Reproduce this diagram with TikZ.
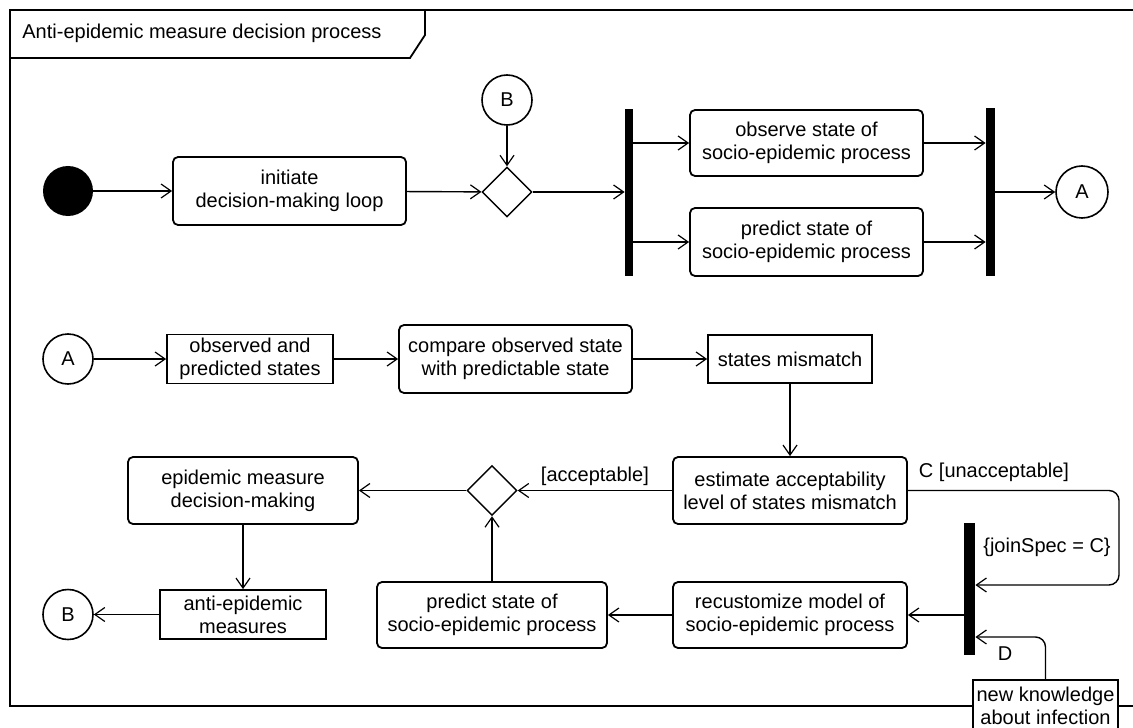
\documentclass[tikz,border=0pt]{standalone}
\usepackage{fontspec}
\setmainfont{Liberation Sans}
\usetikzlibrary{arrows.meta,shapes.geometric}
\begin{document}
\begin{tikzpicture}[x=0.5pt,y=-0.5pt,
  txt/.style={font=\fontsize{10}{11.5}\selectfont},
  box/.style={txt,draw,line width=0.9pt,rounded corners=2.5pt,fill=white,align=center,inner sep=0pt},
  obj/.style={txt,draw,line width=0.9pt,fill=white,align=center,inner sep=0pt},
  conn/.style={line width=0.7pt,-{Straight Barb[length=5pt,width=7pt,line width=0.6pt]}},
  conncirc/.style={txt,draw,circle,line width=0.8pt,fill=white,inner sep=0pt},
  bar/.style={fill=black,draw=none,inner sep=0pt},
  dec/.style={draw,diamond,line width=0.7pt,fill=white,minimum width=25pt,minimum height=25pt,inner sep=0pt},
  lbl/.style={txt,inner sep=1pt}
]
\fill[white] (0,0) rectangle (1133,727);
\useasboundingbox (0,0) rectangle (1133,727);

% frame
\draw[line width=0.9pt] (10,10) rectangle (1140,706);
\draw[line width=0.9pt] (10,58) -- (410,58) -- (425,35) -- (425,10);
\node[lbl,anchor=west] (title) at (20,33) {Anti-epidemic measure decision process};

% row 1
\node[circle,fill=black,inner sep=0pt,minimum size=25pt] (start) at (68,191) {};
\node[box,minimum width=116.5pt,minimum height=34pt] (init) at (289.5,191) {initiate\\decision-making loop};
\node[dec] (d1) at (507,192) {};
\node[conncirc,minimum size=25pt] (Bt) at (507,100) {B};
\node[bar,minimum width=4pt,minimum height=83.5pt] (f1) at (629,192.5) {};
\node[box,minimum width=116.5pt,minimum height=33pt] (obs) at (806.5,143) {observe state of\\socio-epidemic process};
\node[box,minimum width=116.5pt,minimum height=34pt] (pr1) at (806.5,242) {predict state of\\socio-epidemic process};
\node[bar,minimum width=4.5pt,minimum height=84pt] (j1) at (990.5,192) {};
\node[conncirc,minimum size=26pt] (At) at (1082,192) {A};

% row 2
\node[conncirc,minimum size=25pt] (Al) at (68,359) {A};
\node[obj,minimum width=83pt,minimum height=24.5pt] (ops) at (250,359) {observed and\\predicted states};
\node[box,minimum width=116.5pt,minimum height=34pt] (cmp) at (515.5,359) {compare observed state\\with predictable state};
\node[obj,minimum width=82pt,minimum height=24pt] (mis) at (790,359) {states mismatch};

% row 3
\node[box,minimum width=117pt,minimum height=33.5pt] (est) at (790,490.5) {estimate acceptability\\level of states mismatch};
\node[dec] (d2) at (492,490.5) {};
\node[box,minimum width=115pt,minimum height=33.5pt] (epi) at (243,490.5) {epidemic measure\\decision-making};

% row 4
\node[obj,minimum width=83pt,minimum height=24.5pt] (anti) at (243,614.5) {anti-epidemic\\measures};
\node[conncirc,minimum size=25pt] (Bl) at (68,614.5) {B};
\node[box,minimum width=115pt,minimum height=33pt] (pr2) at (492,615) {predict state of\\socio-epidemic process};
\node[box,minimum width=117pt,minimum height=33pt] (rec) at (790,615) {recustomize model of\\socio-epidemic process};
\node[bar,minimum width=5.5pt,minimum height=66pt] (j2) at (969.5,589) {};
\node[obj,minimum width=72.5pt,minimum height=26pt] (nk) at (1045.5,706) {new knowledge\\about infection};

\coordinate (cC) at (1119,585);
\coordinate (dY) at (1000,637);

% connectors
\draw[conn] (start) -- (init);
\draw[conn] (init) -- (d1);
\draw[conn] (Bt) -- (d1);
\draw[conn] (d1.east) -- (d1.east -| f1.west);
\draw[conn] (f1.east |- obs.west) -- (obs.west);
\draw[conn] (f1.east |- pr1.west) -- (pr1.west);
\draw[conn] (obs.east) -- (obs.east -| j1.west);
\draw[conn] (pr1.east) -- (pr1.east -| j1.west);
\draw[conn] (j1.east |- At.west) -- (At.west);

\draw[conn] (Al) -- (ops);
\draw[conn] (ops) -- (cmp);
\draw[conn] (cmp) -- (mis);
\draw[conn] (mis) -- (est);
\draw[conn] (est.west) -- node[lbl,midway,above=1pt] {[acceptable]} (d2.east);
\draw[conn] (d2) -- (epi);
\draw[conn] (pr2) -- (d2);
\draw[conn] (epi) -- (anti);
\draw[conn] (anti) -- (Bl);
\draw[conn,rounded corners=5pt] (est.east) -| (cC) -- (cC -| j2.east);
\draw[conn] (j2.west |- rec.east) -- (rec.east);
\draw[conn] (rec) -- (pr2);
\draw[conn,rounded corners=5pt] (nk.north) |- (j2.east |- dY);

\node[lbl] (lC) at (994,472) {C [unacceptable]};
\node[lbl] (lJ) at (1047,547) {\{joinSpec = C\}};
\node[lbl] (lD) at (1005,654) {D};
\end{tikzpicture}
\end{document}
